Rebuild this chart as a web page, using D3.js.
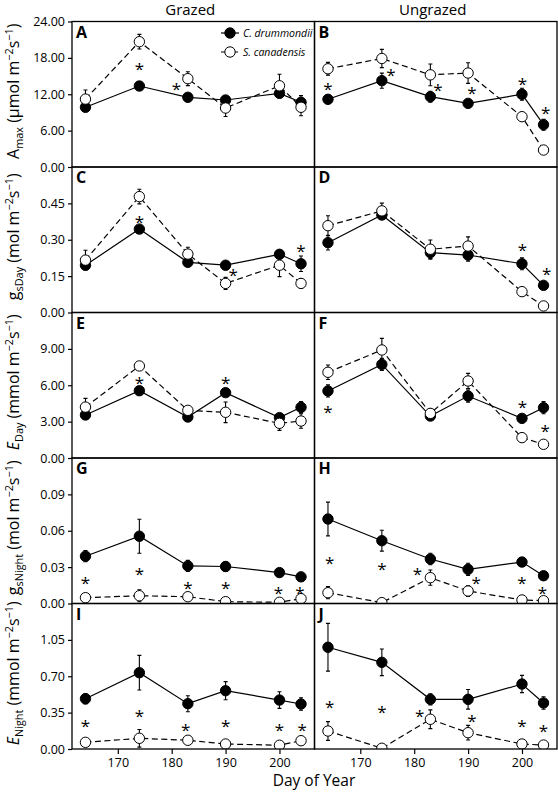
<!DOCTYPE html>
<html><head><meta charset="utf-8">
<script src="https://cdn.jsdelivr.net/npm/d3@7/dist/d3.min.js"></script>
<style>
body{margin:0;background:#fff;}
svg{display:block;}
text{font-family:"Open Sans","Noto Sans",sans-serif;}
</style></head>
<body>
<svg id="chart" width="558" height="794"></svg>
<script>
// ---------- data ----------
const days = [164, 174, 183, 190, 200, 204];
const xTicks = [170, 180, 190, 200];
const columnTitles = ["Grazed", "Ungrazed"];
const seriesNames = ["C. drummondii", "S. canadensis"];
const panelLetters = ["A","B","C","D","E","F","G","H","I","J"];

// A / B : Amax
const amaxYTicks = [0, 6, 12, 18, 24];
const amaxGrazedCD = [9.85, 13.36, 11.5, 11.05, 12.15, 10.67];
const amaxGrazedCDErr = [0.6, 0.7, 0.6, 0.6, 0.7, 1.1];
const amaxGrazedSC = [11.2, 20.67, 14.57, 9.73, 13.4, 9.85];
const amaxGrazedSCErr = [1.5, 1.2, 1.15, 1.4, 1.9, 1.4];
const amaxGrazedStars = [[174, 16.7], [180.9, 13.5]];
const amaxUngrazedCD = [11.17, 14.24, 11.6, 10.5, 12.0, 6.98];
const amaxUngrazedCDErr = [0.6, 1.25, 0.9, 0.5, 1.0, 0.9];
const amaxUngrazedSC = [16.2, 17.9, 15.2, 15.5, 8.3, 2.8];
const amaxUngrazedSCErr = [1.05, 1.5, 1.8, 1.7, 0.6, 0.3];
const amaxUngrazedStars = [[164, 13.5], [175.7, 15.8], [184.4, 13.3], [190.7, 12.8], [200.1, 14.35], [204.4, 9.5]];

// C / D : gsDay
const gsDayYTicks = [0, 0.15, 0.30, 0.45];
const gsDayGrazedCD = [0.195, 0.344, 0.207, 0.195, 0.24, 0.201];
const gsDayGrazedCDErr = [0.015, 0.012, 0.012, 0.01, 0.012, 0.032];
const gsDayGrazedSC = [0.216, 0.478, 0.241, 0.12, 0.195, 0.12];
const gsDayGrazedSCErr = [0.041, 0.03, 0.028, 0.025, 0.047, 0.02];
const gsDayGrazedStars = [[174, 0.388], [191.4, 0.171], [204, 0.269]];
const gsDayUngrazedCD = [0.288, 0.402, 0.247, 0.237, 0.201, 0.112];
const gsDayUngrazedCDErr = [0.03, 0.015, 0.027, 0.025, 0.025, 0.01];
const gsDayUngrazedSC = [0.358, 0.419, 0.261, 0.274, 0.086, 0.027];
const gsDayUngrazedSCErr = [0.041, 0.032, 0.038, 0.038, 0.01, 0.008];
const gsDayUngrazedStars = [[200.1, 0.271], [204.6, 0.175]];

// E / F : EDay
const eDayYTicks = [0, 3, 6, 9];
const eDayGrazedCD = [3.55, 5.55, 3.38, 5.39, 3.33, 4.18];
const eDayGrazedCDErr = [0.3, 0.3, 0.3, 0.3, 0.3, 0.47];
const eDayGrazedSC = [4.2, 7.59, 3.93, 3.77, 2.86, 3.05];
const eDayGrazedSCErr = [0.72, 0.3, 0.3, 0.85, 0.58, 0.6];
const eDayGrazedStars = [[174, 6.5], [190, 6.5]];
const eDayUngrazedCD = [5.53, 7.72, 3.46, 5.11, 3.27, 4.15];
const eDayUngrazedCDErr = [0.5, 0.5, 0.3, 0.5, 0.3, 0.5];
const eDayUngrazedSC = [7.07, 8.91, 3.68, 6.35, 1.68, 1.13];
const eDayUngrazedSCErr = [0.6, 0.96, 0.4, 0.63, 0.2, 0.2];
const eDayUngrazedStars = [[164, 4.1], [200.1, 4.5], [204.3, 2.5]];

// G / H : gsNight
const gsNightYTicks = [0, 0.03, 0.06, 0.09];
const gsNightGrazedCD = [0.039, 0.0555, 0.031, 0.0305, 0.0255, 0.022];
const gsNightGrazedCDErr = [0.0046, 0.014, 0.0046, 0.004, 0.002, 0.0015];
const gsNightGrazedSC = [0.0048, 0.0064, 0.0056, 0.0015, 0.001, 0.004];
const gsNightGrazedSCErr = [0.0015, 0.005, 0.0015, 0.0015, 0.001, 0.001];
const gsNightGrazedStars = [[164, 0.02], [174, 0.0276], [183, 0.0153], [190, 0.0153], [199.8, 0.0117], [203.8, 0.0117]];
const gsNightUngrazedCD = [0.0697, 0.0518, 0.0367, 0.0282, 0.0342, 0.0229];
const gsNightUngrazedCDErr = [0.0139, 0.0086, 0.0047, 0.005, 0.0036, 0.002];
const gsNightUngrazedSC = [0.0089, 0.0007, 0.0213, 0.0103, 0.0029, 0.0023];
const gsNightUngrazedSCErr = [0.005, 0.001, 0.0063, 0.0044, 0.001, 0.001];
const gsNightUngrazedStars = [[164.3, 0.0359], [174, 0.0312], [180.6, 0.0276], [191.5, 0.0194], [200, 0.0194], [203.8, 0.0117]];

// I / J : ENight
const eNightYTicks = [0, 0.35, 0.70, 1.05];
const eNightGrazedCD = [0.484, 0.734, 0.436, 0.561, 0.471, 0.433];
const eNightGrazedCDErr = [0.05, 0.167, 0.077, 0.087, 0.08, 0.06];
const eNightGrazedSC = [0.064, 0.103, 0.084, 0.048, 0.036, 0.08];
const eNightGrazedSCErr = [0.02, 0.085, 0.02, 0.015, 0.01, 0.015];
const eNightGrazedStars = [[164, 0.253], [174, 0.35], [182.6, 0.215], [190, 0.253], [200, 0.215], [204.2, 0.215]];
const eNightUngrazedCD = [0.979, 0.834, 0.478, 0.478, 0.625, 0.443];
const eNightUngrazedCDErr = [0.23, 0.128, 0.054, 0.094, 0.083, 0.06];
const eNightUngrazedSC = [0.173, 0.007, 0.286, 0.157, 0.048, 0.038];
const eNightUngrazedSCErr = [0.09, 0.01, 0.09, 0.07, 0.01, 0.01];
const eNightUngrazedStars = [[164.3, 0.44], [174, 0.39], [181, 0.35], [190.7, 0.305], [200, 0.253], [204, 0.205]];

// ---------- row definitions ----------
const rows = [
  {max: 24, ticks: amaxYTicks, fmt: d3.format(".2f"), showTop: true,
   label: [{t:"A"},{t:"max",s:"sub"},{t:" (µmol m"},{t:"−2",s:"sup"},{t:"s"},{t:"−1",s:"sup"},{t:")"}],
   cols: [[amaxGrazedCD, amaxGrazedCDErr, amaxGrazedSC, amaxGrazedSCErr, amaxGrazedStars],
          [amaxUngrazedCD, amaxUngrazedCDErr, amaxUngrazedSC, amaxUngrazedSCErr, amaxUngrazedStars]]},
  {max: 0.6, ticks: gsDayYTicks, fmt: d3.format(".2f"),
   label: [{t:"g"},{t:"sDay",s:"sub"},{t:" (mol m"},{t:"−2",s:"sup"},{t:"s"},{t:"−1",s:"sup"},{t:")"}],
   cols: [[gsDayGrazedCD, gsDayGrazedCDErr, gsDayGrazedSC, gsDayGrazedSCErr, gsDayGrazedStars],
          [gsDayUngrazedCD, gsDayUngrazedCDErr, gsDayUngrazedSC, gsDayUngrazedSCErr, gsDayUngrazedStars]]},
  {max: 12, ticks: eDayYTicks, fmt: d3.format(".2f"),
   label: [{t:"E",s:"i"},{t:"Day",s:"sub"},{t:" (mmol m"},{t:"−2",s:"sup"},{t:"s"},{t:"−1",s:"sup"},{t:")"}],
   cols: [[eDayGrazedCD, eDayGrazedCDErr, eDayGrazedSC, eDayGrazedSCErr, eDayGrazedStars],
          [eDayUngrazedCD, eDayUngrazedCDErr, eDayUngrazedSC, eDayUngrazedSCErr, eDayUngrazedStars]]},
  {max: 0.12, ticks: gsNightYTicks, fmt: d3.format(".2f"),
   label: [{t:"g"},{t:"sNight",s:"sub"},{t:" (mol m"},{t:"−2",s:"sup"},{t:"s"},{t:"−1",s:"sup"},{t:")"}],
   cols: [[gsNightGrazedCD, gsNightGrazedCDErr, gsNightGrazedSC, gsNightGrazedSCErr, gsNightGrazedStars],
          [gsNightUngrazedCD, gsNightUngrazedCDErr, gsNightUngrazedSC, gsNightUngrazedSCErr, gsNightUngrazedStars]]},
  {max: 1.4, ticks: eNightYTicks, fmt: d3.format(".2f"),
   label: [{t:"E",s:"i"},{t:"Night",s:"sub"},{t:" (mmol m"},{t:"−2",s:"sup"},{t:"s"},{t:"−1",s:"sup"},{t:")"}],
   cols: [[eNightGrazedCD, eNightGrazedCDErr, eNightGrazedSC, eNightGrazedSCErr, eNightGrazedStars],
          [eNightUngrazedCD, eNightUngrazedCDErr, eNightUngrazedSC, eNightUngrazedSCErr, eNightUngrazedStars]]}
];

// ---------- layout ----------
const left0 = 72, panelW = 242.5, top0 = 21.5, panelH = 145.5;
const svg = d3.select("#chart");

const x = [0,1].map(c => d3.scaleLinear().domain([161.5, 206.5]).range([left0 + c*panelW, left0 + (c+1)*panelW]));

function richText(sel, segs, size) {
  let off = 0;
  segs.forEach(sg => {
    const ts = sel.append("tspan").text(sg.t);
    let target = 0, fs = size;
    if (sg.s === "sub") { target = size*0.28; fs = size*0.68; }
    if (sg.s === "sup") { target = -size*0.38; fs = size*0.68; }
    if (sg.s === "i") ts.attr("font-style", "italic");
    ts.attr("font-size", fs).attr("dy", target - off);
    off = target;
  });
}

rows.forEach((row, r) => {
  const y0 = top0 + r*panelH;
  const y = d3.scaleLinear().domain([0, row.max]).range([y0 + panelH, y0]);

  row.cols.forEach((col, c) => {
    const [cd, cdErr, sc, scErr, stars] = col;
    const xs = x[c];
    const g = svg.append("g");
    const clipId = `clip-${r}-${c}`;
    svg.append("clipPath").attr("id", clipId).append("rect")
      .attr("x", xs.range()[0]).attr("y", y0).attr("width", panelW).attr("height", panelH);
    const inner = g.append("g").attr("clip-path", `url(#${clipId})`);

    const series = [
      {vals: cd, err: cdErr, fill: "#000", dash: null},
      {vals: sc, err: scErr, fill: "#fff", dash: "6,3.5"}
    ];
    series.forEach(s => {
      const pts = days.map((d, i) => [d, s.vals[i], s.err[i]]);
      inner.append("path")
        .attr("d", d3.line().x(p => xs(p[0])).y(p => y(p[1]))(pts))
        .attr("fill", "none").attr("stroke", "#000").attr("stroke-width", 1.2)
        .attr("stroke-dasharray", s.dash);
      const eb = inner.append("g").attr("stroke", "#000").attr("stroke-width", 1.1);
      pts.forEach(p => {
        const cx = xs(p[0]);
        eb.append("line").attr("x1", cx).attr("x2", cx).attr("y1", y(p[1]-p[2])).attr("y2", y(p[1]+p[2]));
        eb.append("line").attr("x1", cx-2).attr("x2", cx+2).attr("y1", y(p[1]+p[2])).attr("y2", y(p[1]+p[2]));
        eb.append("line").attr("x1", cx-2).attr("x2", cx+2).attr("y1", y(p[1]-p[2])).attr("y2", y(p[1]-p[2]));
      });
      inner.selectAll(null).data(pts).enter().append("circle")
        .attr("cx", p => xs(p[0])).attr("cy", p => y(p[1])).attr("r", 5.2)
        .attr("fill", s.fill).attr("stroke", "#000").attr("stroke-width", 1);
    });

    // significance stars
    g.selectAll(null).data(stars).enter().append("text")
      .attr("x", p => xs(p[0])).attr("y", p => y(p[1]) + 9.5)
      .attr("text-anchor", "middle").attr("font-size", 17)
      .attr("font-family", "Liberation Sans, Arial, sans-serif")
      .text("*");

    // frame
    g.append("rect").attr("x", xs.range()[0]).attr("y", y0).attr("width", panelW).attr("height", panelH)
      .attr("fill", "none").attr("stroke", "#000").attr("stroke-width", 1.3);

    // panel letter
    g.append("text").attr("x", xs.range()[0] + 4).attr("y", y0 + 16)
      .attr("font-family", "Liberation Sans, Arial, sans-serif").attr("font-weight", "bold")
      .attr("font-size", 16).text(panelLetters[r*2 + c]);

    // y axis only on left column
    if (c === 0) {
      const ticks = row.showTop ? row.ticks : row.ticks.filter(t => t < row.max);
      const ax = svg.append("g").attr("transform", `translate(${xs.range()[0]},0)`)
        .call(d3.axisLeft(y).tickValues(ticks).tickFormat(row.fmt).tickSize(4).tickPadding(3));
      ax.select(".domain").remove();
      ax.selectAll("line").attr("stroke-width", 1.2);
      ax.selectAll("text").attr("font-size", 12.5).attr("font-family", "Open Sans, sans-serif").attr("fill", "#000");
    }
    // x axis only bottom row
    if (r === rows.length - 1) {
      const ax = svg.append("g").attr("transform", `translate(0,${y0 + panelH})`)
        .call(d3.axisBottom(xs).tickValues(xTicks).tickSize(5).tickPadding(4));
      ax.select(".domain").remove();
      ax.selectAll("line").attr("stroke-width", 1.2);
      ax.selectAll("text").attr("font-size", 12.5).attr("font-family", "Open Sans, sans-serif").attr("fill", "#000");
    }
  });

  // y label
  const lab = svg.append("text")
    .attr("transform", `translate(19,${y0 + panelH/2 - 3}) rotate(-90)`)
    .attr("text-anchor", "middle").attr("font-size", 16);
  richText(lab, row.label, 16);
});

// column titles
columnTitles.forEach((t, c) => {
  svg.append("text").attr("x", (x[c].range()[0] + x[c].range()[1]) / 2 - 3).attr("y", 14.5)
    .attr("text-anchor", "middle").attr("font-size", 15)
    .attr("font-family", "Liberation Sans, Arial, sans-serif").text(t);
});
// x label
svg.append("text").attr("x", 314).attr("y", 786).attr("text-anchor", "middle")
  .attr("font-size", 15.5).text("Day of Year");

// legend in panel A
const leg = svg.append("g");
seriesNames.forEach((n, i) => {
  const ly = 33 + i*19;
  leg.append("line").attr("x1", 221).attr("x2", 239).attr("y1", ly).attr("y2", ly)
    .attr("stroke", "#000").attr("stroke-width", 1.2).attr("stroke-dasharray", i ? "4,2.5" : null);
  leg.append("circle").attr("cx", 230).attr("cy", ly).attr("r", 5.2)
    .attr("fill", i ? "#fff" : "#000").attr("stroke", "#000");
  leg.append("text").attr("x", 243).attr("y", ly + 4).attr("font-size", 10.5)
    .attr("font-style", "italic").text(n);
});
</script>
</body></html>
